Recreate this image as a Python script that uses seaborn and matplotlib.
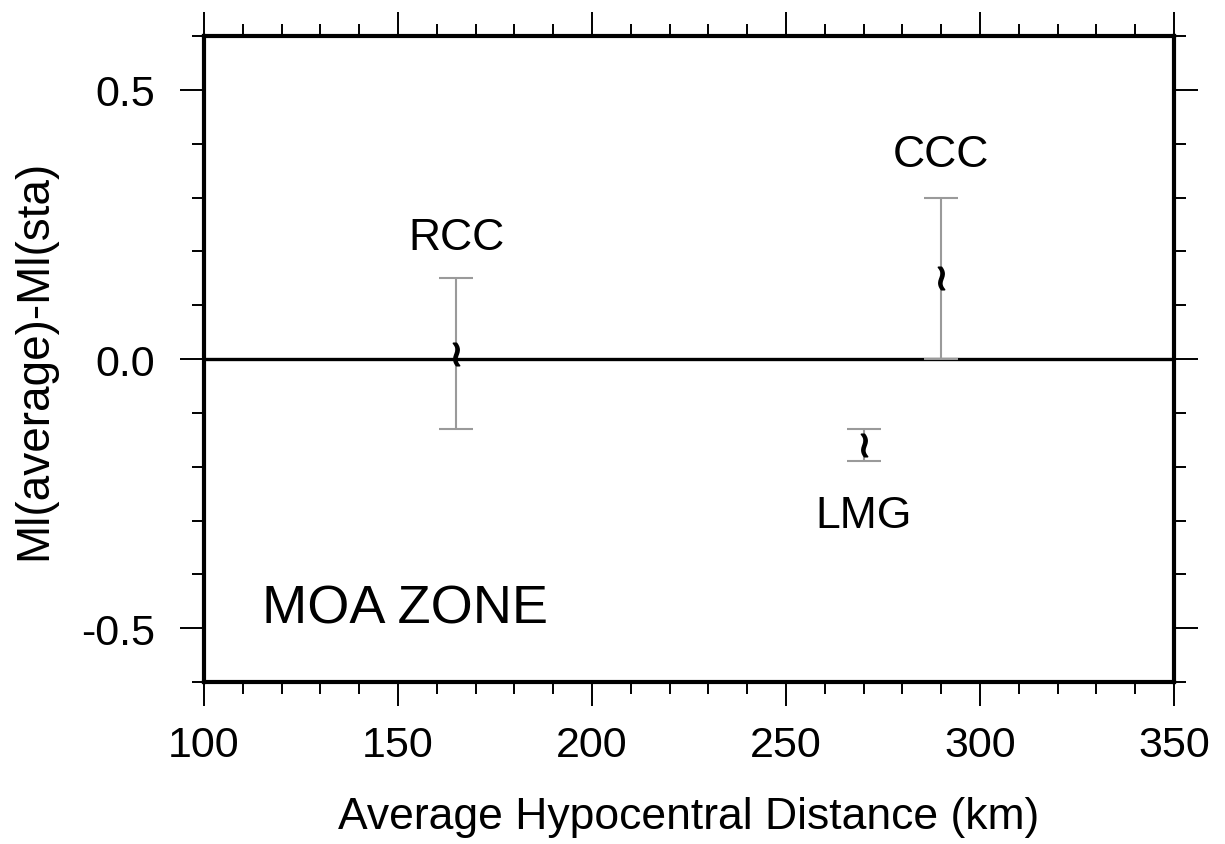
import matplotlib
matplotlib.use("Agg")
import matplotlib.pyplot as plt
import seaborn as sns
import pandas as pd
from matplotlib.ticker import MultipleLocator, FormatStrFormatter

stations = ["RCC", "CCC", "LMG"]
distance = [165, 290, 270]
residual = [0.01, 0.15, -0.16]
err_low = [0.14, 0.15, 0.03]
err_high = [0.14, 0.15, 0.03]
label_x = [165, 290, 270]
label_y = [0.225, 0.38, -0.29]

df = pd.DataFrame({"station": stations, "distance": distance, "residual": residual})

sns.set_theme(style="white")
plt.rcParams["font.family"] = ["Liberation Sans", "DejaVu Sans"]
plt.rcParams["axes.unicode_minus"] = False
plt.rcParams["text.color"] = "black"
plt.rcParams["axes.labelcolor"] = "black"
plt.rcParams["xtick.color"] = "black"
plt.rcParams["ytick.color"] = "black"

fig = plt.figure(figsize=(12.25, 8.45), dpi=100)
ax = fig.add_axes([0.1665, 0.1917, 0.7918, 0.7645])

ax.axhline(0, color="black", lw=2.4, zorder=1)
ax.errorbar(distance, residual, yerr=[err_low, err_high], fmt="none",
            ecolor="#9a9a9a", elinewidth=1.5, capsize=12, capthick=1.5, zorder=2)
sns.scatterplot(data=df, x="distance", y="residual", marker="$\\wr$", s=260,
                color="black", edgecolor="black", linewidth=1.2, ax=ax,
                zorder=3, legend=False)

for s, x, y in zip(stations, label_x, label_y):
    ax.text(x, y, s, ha="center", va="center", fontsize=32)
ax.text(115, -0.463, "MOA ZONE", ha="left", va="center", fontsize=39)

ax.set_xlim(100, 350)
ax.set_ylim(-0.6, 0.6)
ax.xaxis.set_major_locator(MultipleLocator(50))
ax.xaxis.set_minor_locator(MultipleLocator(10))
ax.yaxis.set_major_locator(MultipleLocator(0.5))
ax.yaxis.set_minor_locator(MultipleLocator(0.1))
ax.yaxis.set_major_formatter(FormatStrFormatter("%.1f"))
ax.tick_params(which="both", direction="out", top=True, right=True,
               bottom=True, left=True, color="black", width=1.4)
ax.tick_params(which="major", length=17, labelsize=31)
ax.tick_params(axis="x", which="major", pad=14)
ax.tick_params(axis="y", which="major", pad=18)
ax.tick_params(which="minor", length=8.5)
for sp in ax.spines.values():
    sp.set_linewidth(3.0)
    sp.set_color("black")

ax.set_xlabel("Average Hypocentral Distance (km)", fontsize=32, labelpad=22)
ax.set_ylabel("Ml(average)-Ml(sta)", fontsize=33, labelpad=18)

fig.savefig("out.png", dpi=100, facecolor="white")
